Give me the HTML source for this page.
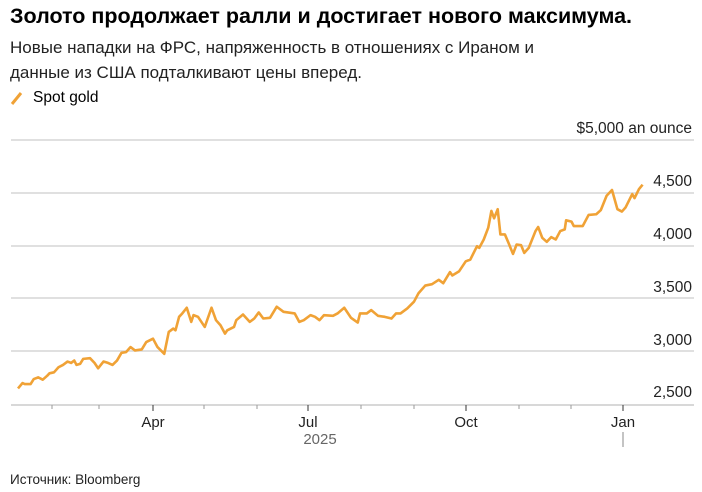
<!DOCTYPE html>
<html><head><meta charset="utf-8"><style>
body{margin:0;background:#fff;width:702px;height:492px;overflow:hidden;font-family:"Liberation Sans",sans-serif;position:relative}
.t{position:absolute;white-space:nowrap;color:#000}
</style></head><body>
<div class="t" style="left:10px;top:4px;font-size:21.5px;font-weight:bold;letter-spacing:0px">Золото продолжает ралли и достигает нового максимума.</div>
<div class="t" style="left:10px;top:35px;font-size:17px;line-height:25px;color:#222">Новые нападки на ФРС, напряженность в отношениях с Ираном и<br>данные из США подталкивают цены вперед.</div>
<div class="t" style="left:33px;top:89px;font-size:15.5px">Spot gold</div>
<svg style="position:absolute;left:0;top:0" width="702" height="492">
<line x1="12" y1="104" x2="21" y2="93" stroke="#f0a236" stroke-width="3"/>
<g stroke="#d6d6d6" stroke-width="1.5">
<line x1="11" y1="140" x2="694" y2="140"/><line x1="11" y1="193" x2="694" y2="193"/>
<line x1="11" y1="246" x2="694" y2="246"/><line x1="11" y1="298" x2="694" y2="298"/>
<line x1="11" y1="351" x2="694" y2="351"/>
</g>
<line x1="11" y1="405" x2="694" y2="405" stroke="#ccc" stroke-width="1.5"/>
<g stroke="#999" stroke-width="1">
<line x1="52" y1="405" x2="52" y2="409"/><line x1="99" y1="405" x2="99" y2="409"/>
<line x1="204" y1="405" x2="204" y2="409"/><line x1="257" y1="405" x2="257" y2="409"/>
<line x1="361" y1="405" x2="361" y2="409"/><line x1="414" y1="405" x2="414" y2="409"/>
<line x1="519" y1="405" x2="519" y2="409"/><line x1="571" y1="405" x2="571" y2="409"/>
</g>
<g stroke="#333" stroke-width="1">
<line x1="153" y1="405" x2="153" y2="411"/><line x1="308" y1="405" x2="308" y2="411"/>
<line x1="466" y1="405" x2="466" y2="411"/><line x1="623" y1="405" x2="623" y2="411"/>
<line x1="623" y1="432" x2="623" y2="447" stroke="#888"/>
</g>
<g font-size="15.5" fill="#222" text-anchor="end">
<text x="692" y="133">$5,000 an ounce</text>
<text x="692" y="186">4,500</text><text x="692" y="239">4,000</text>
<text x="692" y="292">3,500</text><text x="692" y="345">3,000</text>
<text x="692" y="397">2,500</text>
</g>
<g font-size="15" fill="#222" text-anchor="middle">
<text x="153" y="427">Apr</text><text x="308" y="427">Jul</text>
<text x="466" y="427">Oct</text><text x="623" y="427">Jan</text>
<text x="320" y="444" fill="#666">2025</text>
</g>
<text x="10" y="484" font-size="13.5" fill="#222">Источник: Bloomberg</text>
<g transform="translate(0,110) scale(0.45,0.3363)">
<polyline fill="none" stroke="#f0a236" stroke-width="2.6" vector-effect="non-scaling-stroke" stroke-linejoin="round" points="40,828 50,812 55,815 68,815 75,800 85,795 95,802 105,790 110,783 120,780 130,765 140,758 150,748 158,752 165,745 170,758 178,755 185,740 200,738 210,752 218,768 230,748 240,752 250,758 260,745 270,722 280,720 290,705 300,715 315,712 325,690 340,680 350,705 365,725 375,660 385,650 390,655 398,615 405,605 415,588 425,630 430,610 440,615 455,645 470,588 480,625 490,640 500,665 505,655 520,645 525,625 540,608 555,630 565,620 575,602 585,620 600,618 615,585 630,600 655,605 665,630 675,625 690,610 700,615 710,625 720,610 740,612 750,605 765,588 780,618 795,632 800,605 815,605 825,595 840,612 855,615 870,620 880,605 890,605 905,590 920,570 930,545 945,522 960,518 975,505 985,515 1000,482 1005,492 1020,480 1035,450 1045,445 1060,405 1065,410 1075,385 1085,350 1092,300 1098,322 1106,295 1112,370 1122,370 1130,395 1140,428 1148,400 1158,402 1165,425 1175,410 1190,360 1196,348 1205,380 1215,392 1225,378 1235,385 1245,360 1255,355 1258,328 1270,332 1275,345 1295,345 1308,312 1325,310 1335,298 1348,255 1360,238 1372,295 1382,302 1390,290 1405,250 1410,262 1420,235 1428,222"/>
</g>
</svg>
</body></html>
